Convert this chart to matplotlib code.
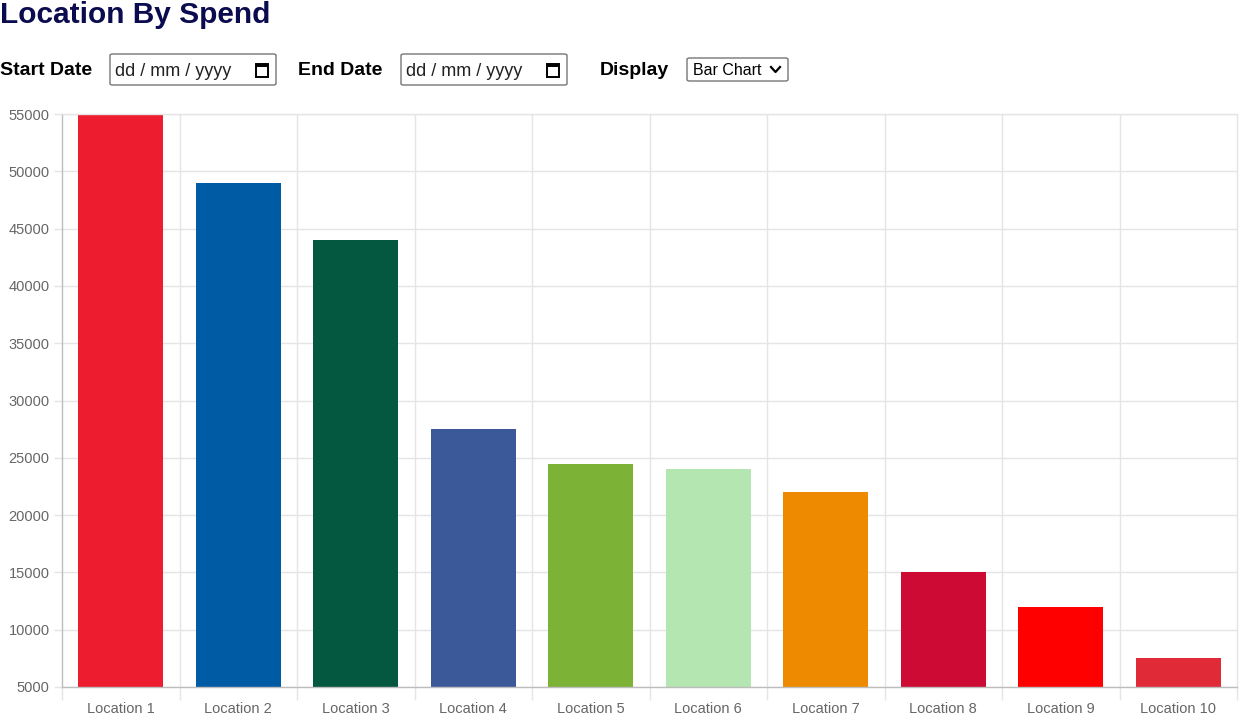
import numpy as np
import matplotlib.pyplot as plt
import matplotlib.patches as mpatches
from matplotlib.lines import Line2D

# ── data ──────────────────────────────────────────────────────────────────────

locations = [f"Location {i}" for i in range(1, 11)]
spend = [55000, 49000, 44000, 27500, 24500, 24000, 22000, 15000, 12000, 7500]
bar_colors = ["#ED1C2E", "#005BA5", "#03583F", "#3B5998", "#7CB235",
              "#B3E6B0", "#EE8A00", "#CC0A33", "#FF0000", "#E12A38"]
y_ticks = list(range(5000, 55001, 5000))

W, H = 1241, 714
plt.rcParams['font.family'] = ['Liberation Sans', 'DejaVu Sans']


def fx(x):
    return x / W


def fy(y):
    return 1 - y / H


fig = plt.figure(figsize=(W / 100, H / 100), dpi=100)
fig.patch.set_facecolor('white')

# ── header / form controls ────────────────────────────────────────────────────

fig.text(fx(0), fy(23), "Location By Spend", fontsize=21.5, fontweight='bold',
         color='#0B0B4F', ha='left', va='baseline')

label_kw = dict(fontsize=14, fontweight='bold', color='black',
                ha='left', va='baseline')
fig.text(fx(0), fy(75), "Start Date", **label_kw)
fig.text(fx(298), fy(75), "End Date", **label_kw)
fig.text(fx(600), fy(75), "Display", **label_kw)


def date_box(x0):
    box = mpatches.FancyBboxPatch((fx(x0), fy(85)), fx(166), 31 / H,
                                  boxstyle="round,pad=0,rounding_size=0.002",
                                  transform=fig.transFigure, facecolor='white',
                                  edgecolor='#767676', linewidth=1)
    fig.add_artist(box)
    fig.text(fx(x0 + 5), fy(76), "dd / mm / yyyy", fontsize=13,
             color='#222222', ha='left', va='baseline')
    # calendar icon
    cx = x0 + 146
    cal = mpatches.Rectangle((fx(cx), fy(77)), fx(12), 13 / H,
                             transform=fig.transFigure, facecolor='white',
                             edgecolor='black', linewidth=1.4)
    fig.add_artist(cal)
    top = mpatches.Rectangle((fx(cx), fy(67)), fx(12), 3 / H,
                             transform=fig.transFigure, facecolor='black',
                             edgecolor='black', linewidth=0)
    fig.add_artist(top)


date_box(110)
date_box(401)

sel = mpatches.FancyBboxPatch((fx(687), fy(81)), fx(101), 23 / H,
                              boxstyle="round,pad=0,rounding_size=0.002",
                              transform=fig.transFigure, facecolor='white',
                              edgecolor='#767676', linewidth=1)
fig.add_artist(sel)
fig.text(fx(693), fy(75), "Bar Chart", fontsize=11.5, color='black',
         ha='left', va='baseline')
fig.add_artist(Line2D([fx(771), fx(775.5), fx(780)], [fy(67), fy(72), fy(67)],
                      transform=fig.transFigure, color='black', linewidth=1.6))

# ── bar chart ─────────────────────────────────────────────────────────────────

ax = fig.add_axes([fx(62), fy(687), fx(1237) - fx(62), fy(114) - fy(687)])
x = np.arange(len(locations))
ax.bar(x, spend, width=0.72, color=bar_colors, zorder=2)

ax.set_xlim(-0.5, len(locations) - 0.5)
ax.set_ylim(y_ticks[0], y_ticks[-1])
ax.set_yticks(y_ticks)
ax.set_yticklabels([str(v) for v in y_ticks])
ax.set_xticks(x)
ax.set_xticklabels(locations)
ax.set_xticks(np.arange(-0.5, len(locations), 1.0), minor=True)

ax.grid(False)
for v in y_ticks:
    ax.axhline(v, color='#E5E5E5', linewidth=1, zorder=0)
for b in np.arange(0.5, len(locations) - 0.5, 1.0):
    ax.axvline(b, color='#E5E5E5', linewidth=1, zorder=0)

ax.tick_params(axis='y', length=6, width=1, color='#E5E5E5', pad=3,
               labelsize=10.5, labelcolor='#666666')
ax.tick_params(axis='x', which='major', length=0, pad=11,
               labelsize=10.5, labelcolor='#666666')
ax.tick_params(axis='x', which='minor', length=9, width=1, color='#E5E5E5')

for side in ['top', 'right']:
    ax.spines[side].set_color('#E5E5E5')
    ax.spines[side].set_linewidth(1)
for side in ['left', 'bottom']:
    ax.spines[side].set_color('#BDBDBD')
    ax.spines[side].set_linewidth(1)

fig.savefig('out.png', dpi=100, facecolor='white')
